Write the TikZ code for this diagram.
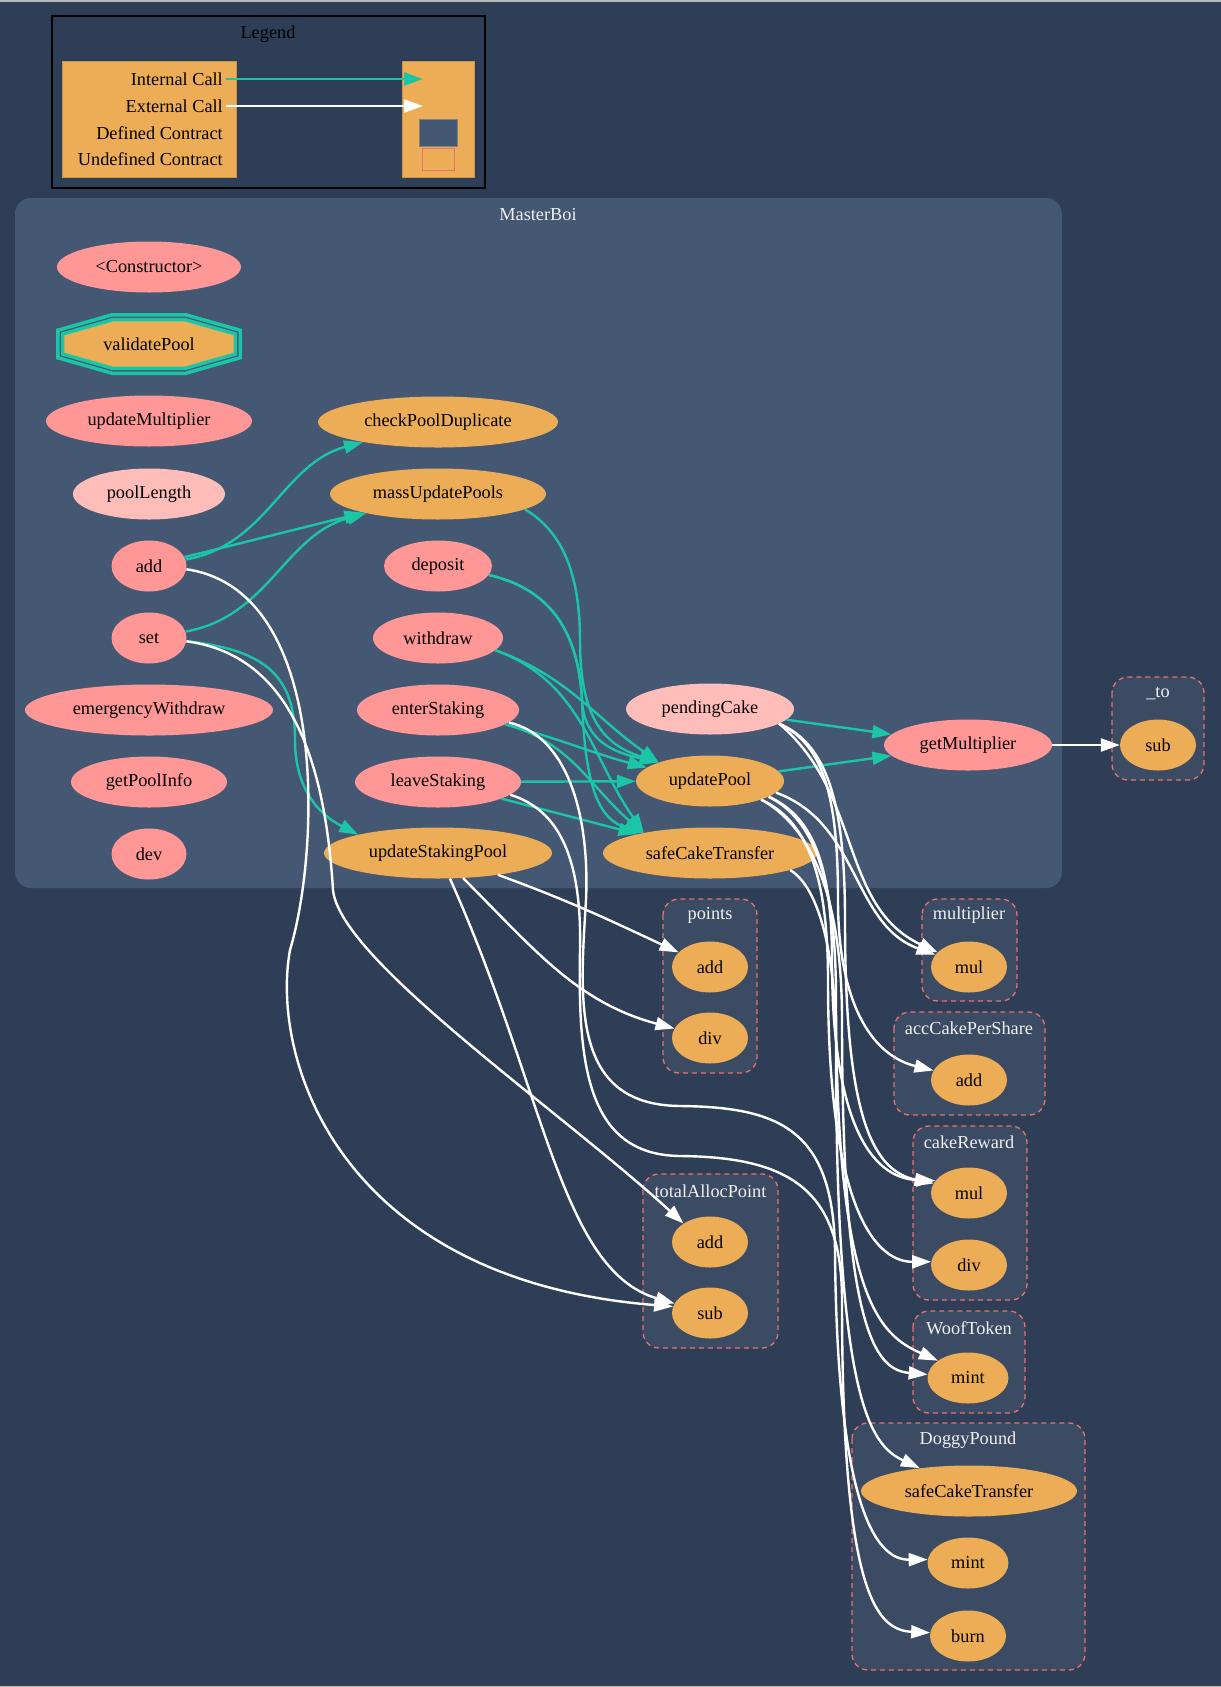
\documentclass[tikz,border=0pt]{standalone}
\usepackage{fontspec}
\setmainfont{Liberation Serif}
\usepackage{xcolor}
\usetikzlibrary{shapes.geometric, arrows.meta}
\definecolor{bg}{HTML}{2E3E56}
\definecolor{contract}{HTML}{445773}
\definecolor{undefbg}{HTML}{3B4B63}
\definecolor{undef}{HTML}{E8726D}
\definecolor{pub}{HTML}{FF9797}
\definecolor{view}{HTML}{FFBDB9}
\definecolor{intl}{HTML}{EDAD56}
\definecolor{icall}{HTML}{1BC6A6}
\definecolor{ttl}{HTML}{F0F0F0}
\newcommand{\gvfont}{\fontsize{18.3}{22}\selectfont}
\tikzset{fn/.style={ellipse, inner sep=0pt, minimum height=51pt, text=black, font=\gvfont}}
\tikzset{pub/.style={fn, fill=pub}}
\tikzset{view/.style={fn, fill=view}}
\tikzset{intl/.style={fn, fill=intl}}
\tikzset{ttl/.style={text=ttl, font=\gvfont}}
\tikzset{keytext/.style={text=black, font=\gvfont, anchor=east, inner sep=3pt}}
\tikzset{undefbox/.style={draw=undef, fill=undefbg, line width=1.3pt, dash pattern=on 5pt off 4pt, rounded corners=16pt}}
\tikzset{icall/.style={draw=icall, line width=2.4pt, -{Triangle[length=19pt,width=13pt]}}}
\tikzset{xcall/.style={draw=white, line width=2.4pt, -{Triangle[length=19pt,width=13pt]}}}

\begin{document}
\begin{tikzpicture}[x=1pt, y=1pt]
    \useasboundingbox (0,0) rectangle (1221,-1687);
    \fill[bg] (0,0) rectangle (1221,-1687);
    \draw[gray!55, line width=1.5pt] (0,-0.75) -- (1221,-0.75);
    \draw[gray!55, line width=1.5pt] (0,-1686.25) -- (1221,-1686.25);

    % legend
    \draw[line width=1.2pt] (52,-16) rectangle (485,-188);
    \node[font=\gvfont] (legend) at (268,-34) {Legend};
    \draw[fill=intl, draw=intl!85!black] (62,-61) rectangle (236,-177);
    \draw[fill=intl, draw=intl!85!black] (402,-61) rectangle (474,-177);
    \node[keytext] (kint) at (226,-79) {Internal Call};
    \node[keytext] (kext) at (226,-106) {External Call};
    \node[keytext] (kdef) at (226,-133) {Defined Contract};
    \node[keytext] (kundef) at (226,-159) {Undefined Contract};
    \coordinate (kintto) at (423,-79);
    \coordinate (kextto) at (423,-106);
    \draw[fill=contract, draw=gray] (419,-119) rectangle (457,-146);
    \draw[fill=intl, draw=undef] (422,-148) rectangle (454,-170);
    \draw[icall] (kint) -- (kintto);
    \draw[xcall] (kext) -- (kextto);

    % contract clusters
    \fill[contract, rounded corners=16pt] (15,-198) rectangle (1062,-888);
    \node[ttl] (tboi) at (538,-215) {MasterBoi};
    \draw[undefbox] (1112,-677) rectangle (1204,-780);
    \node[ttl] (tto) at (1158,-694) {\_to};
    \draw[undefbox] (663,-899) rectangle (757,-1073);
    \node[ttl] (tpoints) at (710,-915) {points};
    \draw[undefbox] (922,-899) rectangle (1017,-1001);
    \node[ttl] (tmult) at (969,-915) {multiplier};
    \draw[undefbox] (894,-1012) rectangle (1045,-1115);
    \node[ttl] (tacc) at (969,-1028) {accCakePerShare};
    \draw[undefbox] (913,-1126) rectangle (1027,-1300);
    \node[ttl] (treward) at (969,-1142) {cakeReward};
    \draw[undefbox] (643,-1174) rectangle (778,-1348);
    \node[ttl] (talloc) at (710.5,-1191) {totalAllocPoint};
    \draw[undefbox] (913,-1311) rectangle (1025,-1413);
    \node[ttl] (twoof) at (969,-1328) {WoofToken};
    \draw[undefbox] (852,-1423) rectangle (1085,-1670);
    \node[ttl] (tpound) at (968,-1440) {DoggyPound};

    % MasterBoi functions
    \node[pub, minimum width=184pt] (ctor) at (149,-267) {<Constructor>};
    \begin{scope}[shift={(149,-344)}]
        \filldraw[draw=icall, fill=contract, line width=3.5pt] (-36.75,29.25) -- (36.75,29.25) -- (91.25,13.7) -- (91.25,-13.7) -- (36.75,-29.25) -- (-36.75,-29.25) -- (-91.25,-13.7) -- (-91.25,13.7) -- cycle;
        \filldraw[draw=icall, fill=intl, line width=3.5pt] (-36.1,24.4) -- (36.1,24.4) -- (86.4,10) -- (86.4,-10) -- (36.1,-24.4) -- (-36.1,-24.4) -- (-86.4,-10) -- (-86.4,10) -- cycle;
    \end{scope}
    \node[font=\gvfont] (vp) at (149,-344) {validatePool};
    \node[pub, minimum width=206pt] (umul) at (149,-421) {updateMultiplier};
    \node[view, minimum width=152pt] (plen) at (149,-494) {poolLength};
    \node[pub, minimum width=75pt] (add) at (149,-566) {add};
    \node[pub, minimum width=75pt] (set) at (149,-638) {set};
    \node[pub, minimum width=248pt] (ew) at (149,-710) {emergencyWithdraw};
    \node[pub, minimum width=156pt] (gpi) at (149,-782) {getPoolInfo};
    \node[pub, minimum width=75pt] (dev) at (149,-854) {dev};

    \node[intl, minimum width=240pt] (cpd) at (438,-422) {checkPoolDuplicate};
    \node[intl, minimum width=216pt] (mup) at (438,-494) {massUpdatePools};
    \node[pub, minimum width=108pt] (dep) at (438,-566) {deposit};
    \node[pub, minimum width=130pt] (wd) at (438,-638) {withdraw};
    \node[pub, minimum width=162pt] (es) at (438,-710) {enterStaking};
    \node[pub, minimum width=166pt] (ls) at (438,-782) {leaveStaking};
    \node[intl, minimum width=228pt] (usp) at (438,-853) {updateStakingPool};

    \node[view, minimum width=168pt] (pc) at (710,-709) {pendingCake};
    \node[intl, minimum width=148pt] (up) at (710,-781) {updatePool};
    \node[intl, minimum width=214pt] (sct) at (710,-853) {safeCakeTransfer};
    \node[pub, minimum width=168pt] (gm) at (968,-745) {getMultiplier};

    % external calls
    \node[intl, minimum width=76pt] (tosub) at (1158,-745) {sub};
    \node[intl, minimum width=76pt] (padd) at (710,-967) {add};
    \node[intl, minimum width=76pt] (pdiv) at (710,-1038) {div};
    \node[intl, minimum width=76pt] (mmul) at (969,-967) {mul};
    \node[intl, minimum width=76pt] (accadd) at (969,-1080) {add};
    \node[intl, minimum width=76pt] (crmul) at (969,-1193) {mul};
    \node[intl, minimum width=76pt] (crdiv) at (969,-1265) {div};
    \node[intl, minimum width=76pt] (tadd) at (710,-1242) {add};
    \node[intl, minimum width=76pt] (tsub) at (710,-1313) {sub};
    \node[intl, minimum width=81pt] (wmint) at (968,-1378) {mint};
    \node[intl, minimum width=216pt] (dpsct) at (969,-1491) {safeCakeTransfer};
    \node[intl, minimum width=81pt] (dpmint) at (968,-1563) {mint};
    \node[intl, minimum width=76pt] (dpburn) at (968,-1636) {burn};

    % internal calls
    \draw[icall] (add) to[out=10,in=195] (cpd);
    \draw[icall] (add) -- (mup);
    \draw[icall] (set) to[out=10,in=195] (mup);
    \draw[icall] (set.-5) .. controls (270,-650) and (295,-680) .. (295,-740) .. controls (295,-790) and (320,-815) .. (usp.167);
    \draw[icall] (mup.-10) .. controls (560,-530) and (580,-570) .. (580,-640) .. controls (580,-720) and (605,-745) .. (up.160);
    \draw[icall] (dep.-10) .. controls (545,-588) and (578,-625) .. (582,-700) .. controls (584,-740) and (612,-752) .. (up.160);
    \draw[icall] (dep.-10) .. controls (545,-588) and (578,-625) .. (582,-700) .. controls (585,-790) and (600,-820) .. (sct.163);
    \draw[icall] (wd.-12) to[out=-20,in=145] (up.160);
    \draw[icall] (wd.-12) to[out=-20,in=125] (sct.163);
    \draw[icall] (es.-12) to[out=-15,in=165] (up.168);
    \draw[icall] (es.-12) to[out=-15,in=140] (sct.163);
    \draw[icall] (ls) -- (up);
    \draw[icall] (ls) -- (sct);
    \draw[icall] (pc) -- (gm);
    \draw[icall] (up) -- (gm);

    % external calls
    \draw[xcall] (gm) -- (tosub);
    \draw[xcall] (usp.-20) to[out=-20,in=155] (padd.155);
    \draw[xcall] (usp.-45) to[out=-45,in=165] (pdiv.165);
    \draw[xcall] (usp.-65) .. controls (545,-1090) and (560,-1270) .. (tsub.165);
    \draw[xcall] (add.-5) .. controls (330,-590) and (320,-850) .. (290,-950) .. controls (270,-1060) and (340,-1280) .. (tsub.170);
    \draw[xcall] (set.-5) .. controls (290,-655) and (325,-760) .. (333,-890) .. controls (340,-960) and (560,-1110) .. (tadd.145);
    \draw[xcall] (pc.-12) to[out=-40,in=155] (mmul.155);
    \draw[xcall] (up.-10) to[out=-20,in=160] (mmul.160);
    \draw[xcall] (pc.-12) .. controls (825,-745) and (838,-800) .. (838,-900) .. controls (838,-1000) and (870,-1055) .. (accadd.165);
    \draw[xcall] (pc.-12) .. controls (830,-745) and (845,-810) .. (845,-920) .. controls (845,-1110) and (870,-1170) .. (crmul.165);
    \draw[xcall] (up.-15) .. controls (810,-815) and (832,-860) .. (832,-960) .. controls (832,-1120) and (870,-1178) .. (crmul.160);
    \draw[xcall] (up.-20) .. controls (805,-820) and (828,-870) .. (828,-980) .. controls (828,-1220) and (880,-1262) .. (crdiv.175);
    \draw[xcall] (up.-15) .. controls (815,-820) and (836,-880) .. (836,-1000) .. controls (836,-1300) and (880,-1335) .. (wmint.150);
    \draw[xcall] (up.-20) .. controls (808,-825) and (842,-890) .. (842,-1020) .. controls (842,-1330) and (875,-1370) .. (wmint.175);
    \draw[xcall] (sct.-12) .. controls (815,-885) and (836,-940) .. (836,-1050) .. controls (836,-1400) and (870,-1445) .. (dpsct.155);
    \draw[xcall] (es.-10) .. controls (565,-735) and (590,-810) .. (586,-900) .. controls (580,-1000) and (570,-1105) .. (680,-1106) .. controls (780,-1107) and (833,-1130) .. (835,-1250) .. controls (837,-1520) and (880,-1560) .. (dpmint.175);
    \draw[xcall] (ls.-10) .. controls (560,-810) and (582,-860) .. (580,-950) .. controls (578,-1060) and (585,-1155) .. (680,-1156) .. controls (790,-1157) and (842,-1190) .. (842,-1300) .. controls (842,-1590) and (875,-1630) .. (dpburn.175);
\end{tikzpicture}
\end{document}
